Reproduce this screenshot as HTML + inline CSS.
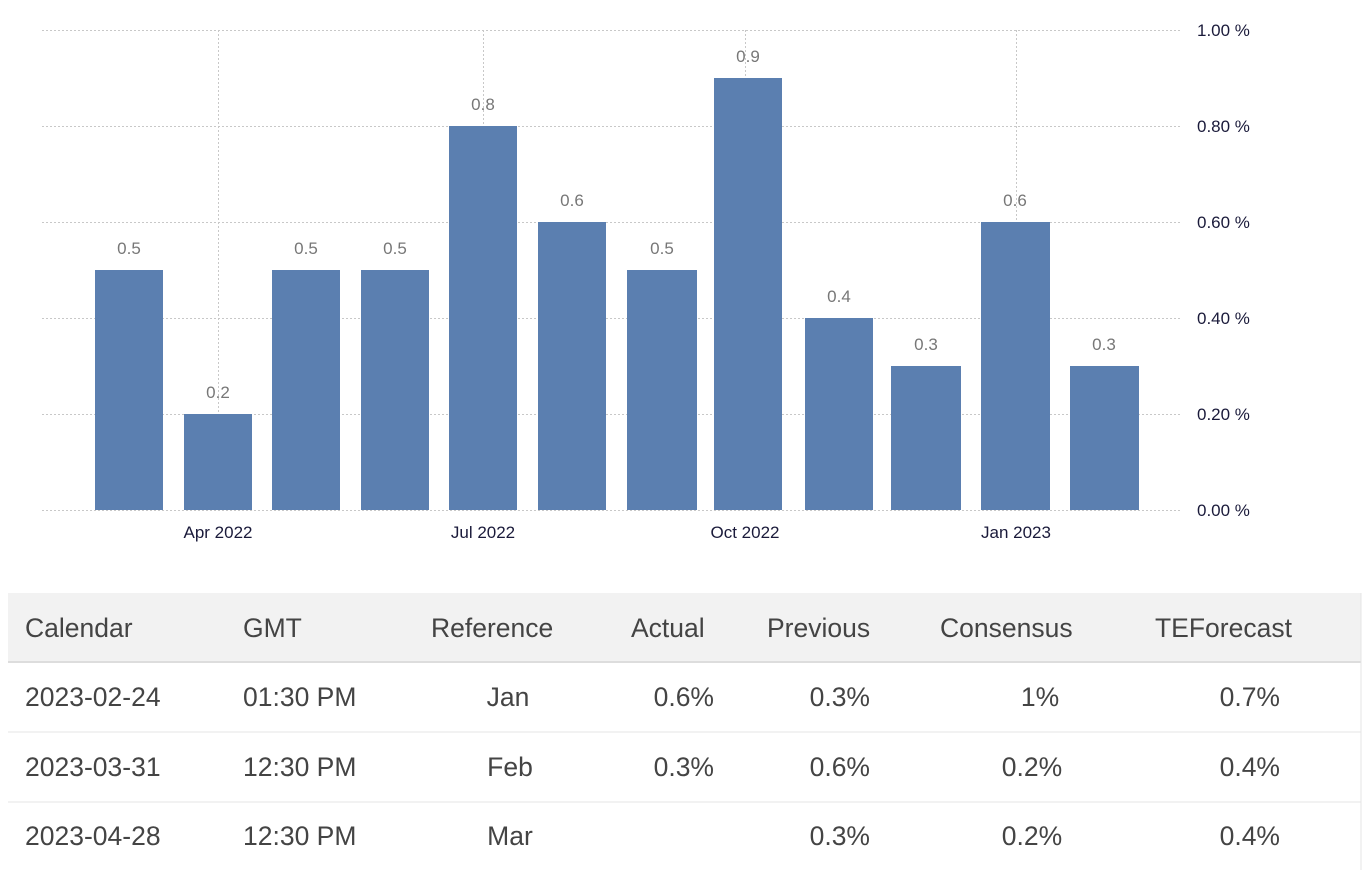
<!DOCTYPE html>
<html><head><meta charset="utf-8"><style>
body{margin:0;background:#fff;width:1370px;height:870px;overflow:hidden}
svg{display:block}
</style></head><body>
<svg width="1370" height="870" xmlns="http://www.w3.org/2000/svg">
<g stroke="#c8c8c8" stroke-dasharray="2,2" stroke-width="1">
<line x1="42" y1="30.5" x2="1182" y2="30.5"/>
<line x1="42" y1="126.5" x2="1182" y2="126.5"/>
<line x1="42" y1="222.5" x2="1182" y2="222.5"/>
<line x1="42" y1="318.5" x2="1182" y2="318.5"/>
<line x1="42" y1="414.5" x2="1182" y2="414.5"/>
<line x1="42" y1="510.5" x2="1182" y2="510.5"/>
<line x1="218.5" y1="30" x2="218.5" y2="510"/>
<line x1="483.5" y1="30" x2="483.5" y2="510"/>
<line x1="745.5" y1="30" x2="745.5" y2="510"/>
<line x1="1016.5" y1="30" x2="1016.5" y2="510"/>
</g>
<g fill="#5b7fb0">
<rect x="95" y="270" width="68" height="240"/>
<rect x="184" y="414" width="68" height="96"/>
<rect x="272" y="270" width="68" height="240"/>
<rect x="361" y="270" width="68" height="240"/>
<rect x="449" y="126" width="68" height="384"/>
<rect x="538" y="222" width="68" height="288"/>
<rect x="627" y="270" width="70" height="240"/>
<rect x="714" y="78" width="68" height="432"/>
<rect x="805" y="318" width="68" height="192"/>
<rect x="891" y="366" width="70" height="144"/>
<rect x="981" y="222" width="69" height="288"/>
<rect x="1070" y="366" width="69" height="144"/>
</g>
<g font-family="Liberation Sans, sans-serif" font-size="17" fill="#777" text-anchor="middle">
<text x="129" y="254">0.5</text><text x="218" y="398">0.2</text><text x="306" y="254">0.5</text>
<text x="395" y="254">0.5</text><text x="483" y="110">0.8</text><text x="572" y="206">0.6</text>
<text x="662" y="254">0.5</text><text x="748" y="62">0.9</text><text x="839" y="302">0.4</text>
<text x="926" y="350">0.3</text><text x="1015" y="206">0.6</text><text x="1104" y="350">0.3</text>
</g>
<g font-family="Liberation Sans, sans-serif" font-size="17" fill="#1a1a3a">
<text x="1197" y="36">1.00 %</text><text x="1197" y="132">0.80 %</text><text x="1197" y="228">0.60 %</text>
<text x="1197" y="324">0.40 %</text><text x="1197" y="420">0.20 %</text><text x="1197" y="516">0.00 %</text>
<g text-anchor="middle">
<text x="218" y="538">Apr 2022</text><text x="483" y="538">Jul 2022</text>
<text x="745" y="538">Oct 2022</text><text x="1016" y="538">Jan 2023</text></g>
</g>
<rect x="8" y="593" width="1353" height="69" fill="#f2f2f2"/>
<line x1="8" y1="662" x2="1361" y2="662" stroke="#ddd" stroke-width="2"/>
<line x1="8" y1="732" x2="1361" y2="732" stroke="#e4e4e4"/>
<line x1="8" y1="802" x2="1361" y2="802" stroke="#e4e4e4"/>
<line x1="1361" y1="593" x2="1361" y2="870" stroke="#e4e4e4"/>
<g font-family="Liberation Sans, sans-serif" font-size="26.5" fill="#444">
<text x="25" y="637">Calendar</text><text x="243" y="637">GMT</text><text x="431" y="637">Reference</text>
<text x="631" y="637">Actual</text><text x="767" y="637">Previous</text><text x="940" y="637">Consensus</text><text x="1155" y="637">TEForecast</text>
<text x="25" y="706">2023-02-24</text><text x="243" y="706">01:30 PM</text>
<text x="25" y="776">2023-03-31</text><text x="243" y="776">12:30 PM</text>
<text x="25" y="845">2023-04-28</text><text x="243" y="845">12:30 PM</text>
<g text-anchor="middle">
<text x="508" y="706">Jan</text><text x="510" y="776">Feb</text><text x="510" y="845">Mar</text>
<text x="1040" y="706">1%</text><text x="1032" y="776">0.2%</text><text x="1032" y="845">0.2%</text></g>
<g text-anchor="end">
<text x="714" y="706">0.6%</text><text x="714" y="776">0.3%</text>
<text x="870" y="706">0.3%</text><text x="870" y="776">0.6%</text><text x="870" y="845">0.3%</text>
<text x="1280" y="706">0.7%</text><text x="1280" y="776">0.4%</text><text x="1280" y="845">0.4%</text></g>
</g>
</svg>
</body></html>
